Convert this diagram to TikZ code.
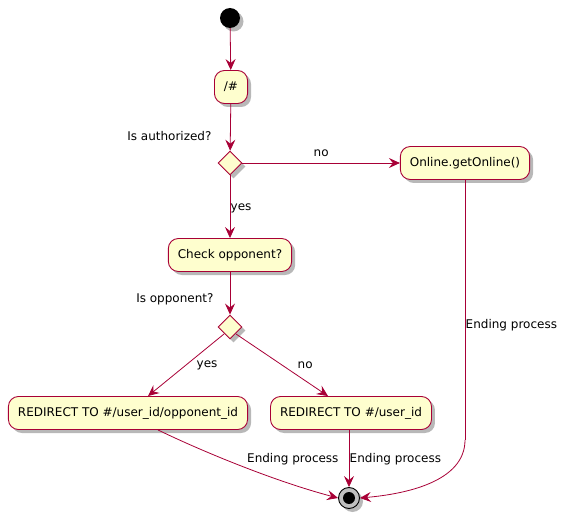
\documentclass[tikz,border=0pt]{standalone}
\usepackage{fontspec}
\setmainfont{DejaVu Sans}
\usepackage{tikz}
\usetikzlibrary{positioning,arrows.meta,shadows,shapes.geometric}
\definecolor{umlred}{HTML}{A80036}
\definecolor{umlfill}{HTML}{FEFECE}
\tikzset{
	shade3/.style={drop shadow={shadow xshift=3.5pt, shadow yshift=-3.5pt, fill=black!35, opacity=0.8}},
	act/.style={draw=umlred, fill=umlfill, rounded corners=10pt, line width=0.9pt, minimum height=33pt, inner xsep=9.5pt, font=\fontsize{12}{14}\selectfont, shade3},
	dec/.style={draw=umlred, fill=umlfill, diamond, line width=0.9pt, minimum width=24pt, minimum height=24pt, inner sep=0pt, shade3},
	flow/.style={-{Stealth[length=11pt, width=10pt, inset=4pt]}, color=umlred, line width=0.8pt},
	lbl/.style={text=black, font=\fontsize{12}{14}\selectfont}
}
\begin{document}
\begin{tikzpicture}[x=1pt, y=-1pt]
				\useasboundingbox (0,0) rectangle (574,519);
				%%%nodes
				%start
				\node[circle, fill=black, minimum size=20pt, inner sep=0pt, shade3] at (230,18) (start){};
				%authorized?
				\node[act] at (231,87) (hash){/\#};
				\node[dec] at (230,163) (auth){};
				\node[lbl, anchor=east] at (215,136) (authq){Is authorized?};
				\node[act] at (465,163) (online){Online.getOnline()};
				%opponent?
				\node[act] at (230,255) (check){Check opponent?};
				\node[dec] at (230,327) (opp){};
				\node[lbl, anchor=east] at (217,299) (oppq){Is opponent?};
				\node[act] at (128,413) (redirA){REDIRECT TO \#/user\_id/opponent\_id};
				\node[act] at (351,413) (redirB){REDIRECT TO \#/user\_id};
				%stop
				\node[circle, draw=black, fill=black!25, line width=0.9pt, minimum size=21pt, inner sep=0pt, shade3] at (349,498) (stop){};
				\node[circle, fill=black, minimum size=12pt, inner sep=0pt] at (stop) (stopdot){};
				\coordinate (turn) at (465,440);
				%%%links
				\draw[flow] (start) -- (hash);
				\draw[flow] (hash) -- (auth);
				\draw[flow] (auth) -- (online)node[lbl, midway, above, yshift=3pt] {no};
				\draw[flow] (auth) -- (check)node[lbl, midway, right, xshift=-3pt, yshift=-2pt] {yes};
				\draw[flow] (check) -- (opp);
				\draw[flow] (opp) ++(-6,7) -- ([xshift=20pt]redirA.north)node[lbl, midway, right, xshift=7pt, yshift=0pt] {yes};
				\draw[flow] (opp) ++(6,7) -- ([xshift=-23pt]redirB.north)node[lbl, midway, right, xshift=12pt, yshift=0pt] {no};
				%ending
				\draw[flow] ([xshift=30pt]redirA.south) .. controls (195,448) and (270,480) .. (stop.west);
				\node[lbl, anchor=east] at (342,459) (endA){Ending process};
				\draw[flow] ([xshift=-2pt]redirB.south) -- (stop.north)node[lbl, midway, right, xshift=-3pt, yshift=-1pt] {Ending process};
				\draw[umlred, line width=0.8pt] (online.south) -- (turn)node[lbl, pos=0.56, right, xshift=-3pt] {Ending process};
				\draw[flow] (turn) .. controls (465,482) and (405,494) .. (stop.east);
			\end{tikzpicture}
\end{document}
